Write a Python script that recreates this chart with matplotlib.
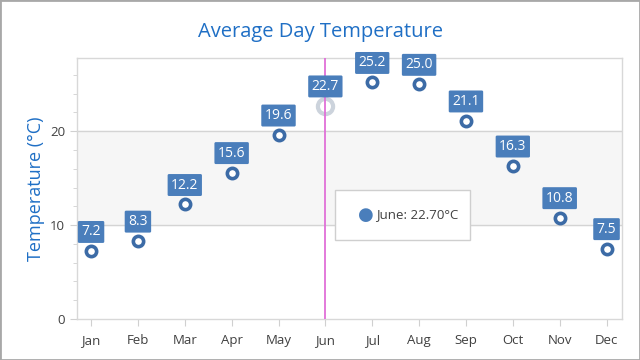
import matplotlib
matplotlib.use("Agg")
import matplotlib.pyplot as plt
from matplotlib.patches import Rectangle

months = ["Jan", "Feb", "Mar", "Apr", "May", "Jun", "Jul", "Aug", "Sep", "Oct", "Nov", "Dec"]
temps = [7.2, 8.3, 12.2, 15.6, 19.6, 22.7, 25.2, 25.0, 21.1, 16.3, 10.8, 7.5]
highlight = 5
tooltip_text = "June: 22.70°C"

plt.rcParams["font.family"] = ["Open Sans", "DejaVu Sans"]

BLUE = "#4a7ebb"
EDGE = "#3c6ba6"
TITLE = "#1f6fc5"

fig = plt.figure(figsize=(6.4, 3.6), dpi=100)
ax = fig.add_axes([77 / 640, 41 / 360, 545 / 640, 261 / 360])

x = list(range(len(months)))
ax.set_xlim(-0.3, 11.33)
ax.set_ylim(0, 27.8)

# strip and grid
ax.axhspan(10, 20, color="#f6f6f6", zorder=0)
for g in (10, 20):
    ax.axhline(g, color="#d4d4d4", lw=1, zorder=1)

xs = [i for i in x if i != highlight]
ys = [t for i, t in enumerate(temps) if i != highlight]
ax.scatter(xs, ys, s=55, facecolor="white", edgecolor=EDGE, linewidth=2.6, zorder=4)
ax.scatter([highlight], [temps[highlight]], s=120, facecolor="white", edgecolor="#ccd3dc",
           linewidth=3.0, zorder=4)

ax.axvline(highlight, color="#e070d8", lw=1.3, zorder=5)

for i, t in enumerate(temps):
    ax.annotate(f"{t:.1f}", (i, t), xytext=(0, 14), textcoords="offset points",
                ha="center", va="center", color="white", fontsize=10,
                bbox=dict(boxstyle="round,pad=0.25,rounding_size=0.1", fc=BLUE, ec="none"),
                zorder=6)

# tooltip
tip = Rectangle((335 / 640, 1 - 240 / 360), 135 / 640, 50 / 360, transform=fig.transFigure,
                facecolor="white", edgecolor="#cfcfcf", lw=1, zorder=7)
fig.patches.append(tip)
fig.text(366 / 640, 1 - 215 / 360, "\u25cf", color=BLUE, fontsize=13, ha="center", va="center",
         family=["DejaVu Sans"], zorder=8)
fig.text(376 / 640, 1 - 215 / 360, tooltip_text, color="#404040", fontsize=9.5, va="center",
         zorder=8)

ax.set_xticks(x)
ax.set_xticklabels(months)
ax.set_yticks([0, 10, 20])
ax.set_yticks(range(0, 28, 2), minor=True)
ax.tick_params(axis="x", colors="#d0d0d0", labelcolor="#404040", labelsize=9.5, length=5, pad=6)
ax.tick_params(axis="y", which="major", colors="#d0d0d0", labelcolor="#404040", labelsize=9.5, length=5)
ax.tick_params(axis="y", which="minor", colors="#d0d0d0", length=3)

for s in ax.spines.values():
    s.set_color("#d8d8d8")
    s.set_linewidth(1)

ax.set_ylabel("Temperature (°C)", color=TITLE, fontsize=13, labelpad=4)
fig.suptitle("Average Day Temperature", color=TITLE, fontsize=14.5, y=1 - 32 / 360, va="center")

fig.patches.append(Rectangle((0, 0), 1, 1, transform=fig.transFigure, fill=False,
                             edgecolor="#a8a8a8", lw=2, zorder=10))

fig.savefig("out.png", dpi=100)
